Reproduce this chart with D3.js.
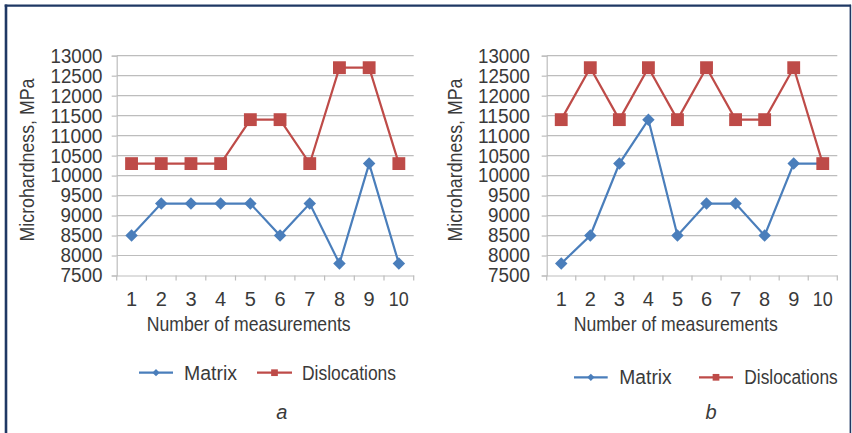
<!DOCTYPE html>
<html>
<head>
<meta charset="utf-8">
<script src="https://cdn.jsdelivr.net/npm/d3@7"></script>
<style>
  html, body { margin: 0; padding: 0; background: #fff; }
  svg { display: block; }
  text { font-family: "Liberation Sans", Arial, sans-serif; fill: #3a3a3a; }
</style>
</head>
<body>
<svg id="chart" width="852" height="433"></svg>
<script>
// ---- data ----
const categories = [1, 2, 3, 4, 5, 6, 7, 8, 9, 10];
const yTicks = [7500, 8000, 8500, 9000, 9500, 10000, 10500, 11000, 11500, 12000, 12500, 13000];
const matrixA = [8500, 9300, 9300, 9300, 9300, 8500, 9300, 7800, 10300, 7800];
const dislocA = [10300, 10300, 10300, 10300, 11400, 11400, 10300, 12700, 12700, 10300];
const matrixB = [7800, 8500, 10300, 11400, 8500, 9300, 9300, 8500, 10300, 10300];
const dislocB = [11400, 12700, 11400, 12700, 11400, 12700, 11400, 11400, 12700, 10300];
const seriesNames = ["Matrix", "Dislocations"];
const yTitle = "Microhardness, MPa";
const xTitle = "Number of measurements";
const captions = ["a", "b"];

const colors = { matrix: "#4a7ebb", disloc: "#be4b48" };
const svg = d3.select("#chart");

// frame
const navy = "#1f3864";
svg.append("line").attr("x1", 6).attr("x2", 6).attr("y1", 4.5).attr("y2", 433).attr("stroke", navy).attr("stroke-width", 2.6);
svg.append("line").attr("x1", 4.7).attr("x2", 851).attr("y1", 5.7).attr("y2", 5.7).attr("stroke", navy).attr("stroke-width", 2.2);
svg.append("line").attr("x1", 850.4).attr("x2", 850.4).attr("y1", 4.7).attr("y2", 433).attr("stroke", navy).attr("stroke-width", 1.6);

const panels = [
  { x0: 116.7, x1: 413.7, labelRight: 102.5, yTitleX: 27, xTitleX: 248.7, xTitleW: 204,
    legY: 372.7, leg: [139, 173, 184, 53, 257, 292, 302, 94], capX: 281.7,
    matrix: matrixA, disloc: dislocA, cap: captions[0] },
  { x0: 546.7, x1: 837.3, labelRight: 530, yTitleX: 455, xTitleX: 675.8, xTitleW: 204,
    legY: 377.3, leg: [574, 607.7, 619.3, 52.4, 699, 733, 744.3, 93.4], capX: 711,
    matrix: matrixB, disloc: dislocB, cap: captions[1] }
];

const y = d3.scaleLinear().domain([7500, 13000]).range([275.5, 55.7]);

panels.forEach(p => {
  const g = svg.append("g");
  const x = d3.scaleBand().domain(categories).range([p.x0, p.x1]);

  // gridlines + y axis with outer ticks
  const yAxis = d3.axisLeft(y).tickValues(yTicks).tickSize(5).tickPadding(p.x0 - 5 - p.labelRight)
    .tickFormat(d3.format("d"));
  const gy = g.append("g").attr("transform", `translate(${p.x0},0)`).call(yAxis);
  gy.select(".domain").attr("stroke", "#bdbdbd").attr("stroke-width", 1.2);
  gy.selectAll(".tick line").attr("stroke", "#bdbdbd").attr("stroke-width", 1.2);
  gy.selectAll(".tick text").attr("font-size", 20).attr("fill", "#3a3a3a").attr("font-family", null)
    .attr("textLength", 52).attr("lengthAdjust", "spacingAndGlyphs");
  gy.selectAll(".tick").filter(d => d < 10000)
    .select("text").attr("textLength", 42);
  g.append("g").selectAll("line").data(yTicks.filter(d => d > 7500)).join("line")
    .attr("x1", p.x0).attr("x2", p.x1).attr("y1", d => y(d)).attr("y2", d => y(d))
    .attr("stroke", "#bdbdbd").attr("stroke-width", 1.2);

  // x axis
  const gx = g.append("g").attr("transform", `translate(0,${y(7500)})`)
    .call(d3.axisBottom(x).tickSize(0).tickPadding(16));
  gx.select(".domain").attr("stroke", "#bdbdbd").attr("stroke-width", 1.2);
  gx.selectAll(".tick text").attr("font-size", 20).attr("fill", "#3a3a3a").attr("font-family", null);
  gx.selectAll(".tick").filter(d => d === 10).select("text")
    .attr("textLength", 20).attr("lengthAdjust", "spacingAndGlyphs");
  g.append("g").selectAll("line").data(d3.range(categories.length + 1)).join("line")
    .attr("x1", i => p.x0 + i * x.step()).attr("x2", i => p.x0 + i * x.step())
    .attr("y1", y(7500)).attr("y2", y(7500) + 5)
    .attr("stroke", "#bdbdbd").attr("stroke-width", 1.2);

  // titles
  g.append("text").attr("transform", `translate(${p.yTitleX},160) rotate(-90)`)
    .attr("text-anchor", "middle").attr("dominant-baseline", "central")
    .attr("font-size", 20).attr("textLength", 163).attr("lengthAdjust", "spacingAndGlyphs").text(yTitle);
  g.append("text").attr("x", p.xTitleX).attr("y", 330.5).attr("text-anchor", "middle")
    .attr("font-size", 21).attr("textLength", p.xTitleW).attr("lengthAdjust", "spacingAndGlyphs").text(xTitle);

  // series
  const cx = d => x(d) + x.bandwidth() / 2;
  const line = d3.line().x((d, i) => cx(categories[i])).y(d => y(d));
  const sets = [
    { vals: p.matrix, color: colors.matrix, size: 78, rot: 45 },
    { vals: p.disloc, color: colors.disloc, size: 165, rot: 0 }
  ];
  sets.forEach(s => {
    g.append("path").datum(s.vals).attr("d", line).attr("fill", "none")
      .attr("stroke", s.color).attr("stroke-width", 2.2);
    g.append("g").selectAll("path").data(s.vals).join("path")
      .attr("d", d3.symbol().type(d3.symbolSquare).size(s.size))
      .attr("transform", (d, i) => `translate(${cx(categories[i])},${y(d)}) rotate(${s.rot})`)
      .attr("fill", s.color);
  });

  // legend
  const L = p.leg;
  const legItems = [
    { x1: L[0], x2: L[1], tx: L[2], tw: L[3], color: colors.matrix, size: 26, rot: 45, name: seriesNames[0] },
    { x1: L[4], x2: L[5], tx: L[6], tw: L[7], color: colors.disloc, size: 45, rot: 0, name: seriesNames[1] }
  ];
  legItems.forEach(it => {
    g.append("line").attr("x1", it.x1).attr("x2", it.x2).attr("y1", p.legY).attr("y2", p.legY)
      .attr("stroke", it.color).attr("stroke-width", 2.2);
    g.append("path").attr("d", d3.symbol().type(d3.symbolSquare).size(it.size)())
      .attr("transform", `translate(${(it.x1 + it.x2) / 2},${p.legY}) rotate(${it.rot})`).attr("fill", it.color);
    g.append("text").attr("x", it.tx).attr("y", p.legY).attr("dominant-baseline", "central")
      .attr("font-size", 20).attr("textLength", it.tw).attr("lengthAdjust", "spacingAndGlyphs").text(it.name);
  });

  // caption
  g.append("text").attr("x", p.capX).attr("y", 411.7).attr("text-anchor", "middle")
    .attr("dominant-baseline", "central").attr("font-size", 20).attr("font-style", "italic").text(p.cap);
});
</script>
</body>
</html>
